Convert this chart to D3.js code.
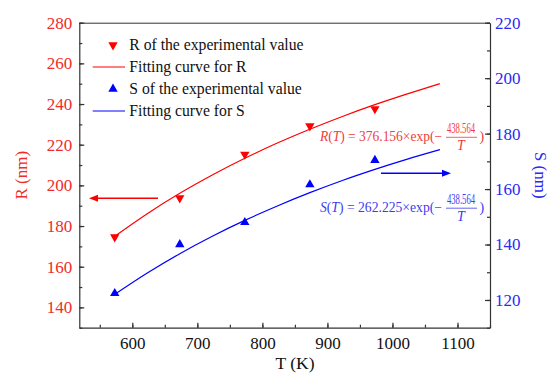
<!DOCTYPE html>
<html>
<head>
<meta charset="utf-8">
<script src="https://d3js.org/d3.v7.min.js"></script>
</head>
<body style="margin:0; background:#fff">
<div id="chart"></div>
<script>
// experimental points
var temps = [573, 673, 773, 873, 973];
var rExp = [174.6, 193.8, 215.2, 229.2, 237.6];
var sExp = [122.4, 140.0, 148.0, 161.6, 170.4];

// fitted curves
var fitTemps = [573, 623, 673, 723, 773, 823, 873, 923, 973, 1023, 1073];
var rFit = [175.0, 186.1, 196.1, 205.1, 213.3, 220.8, 227.6, 233.9, 239.7, 245.0, 250.0];
var sFit = [122.0, 129.7, 136.7, 143.0, 148.7, 153.9, 158.7, 163.1, 167.1, 170.8, 174.2];

var xTicks = [600, 700, 800, 900, 1000, 1100];
var rTicks = [140, 160, 180, 200, 220, 240, 260, 280];
var sTicks = [120, 140, 160, 180, 200, 220];

var legendLabels = ["R of the experimental value", "Fitting curve for R",
                    "S of the experimental value", "Fitting curve for S"];

var W = 553, H = 377;
var margin = {top: 22.7, right: 63, bottom: 49.3, left: 79.3};
var width = W - margin.left - margin.right,
    height = H - margin.top - margin.bottom;

var red = "#ff0000", blue = "#0000ff";
var redText = "#f22a2a", blueText = "#2a2af2";
var serif = "Liberation Serif";

var svg = d3.select("#chart").append("svg")
    .attr("width", W).attr("height", H);

var g = svg.append("g")
    .attr("transform", "translate(" + margin.left + "," + margin.top + ")");

var x = d3.scaleLinear().domain([518.5, 1150]).range([0, width]);
var yR = d3.scaleLinear().domain([130, 280]).range([height, 0]);
var yS = d3.scaleLinear().domain([110, 220]).range([height, 0]);

////////// axes //////////
function minor(scale, step) {
  return d3.range(Math.ceil(scale.domain()[0] / step) * step, scale.domain()[1] + 0.01, step);
}

var axisColor = "#333";
var fmt = d3.format("d");

g.append("g").attr("transform", "translate(0," + height + ")")
  .call(d3.axisBottom(x).tickValues(minor(x, 50)).tickSize(-3).tickFormat(""))
  .call(function(a) { a.select(".domain").remove(); });
var xa = g.append("g").attr("transform", "translate(0," + height + ")")
  .call(d3.axisBottom(x).tickValues(xTicks).tickSize(-5).tickPadding(9).tickSizeOuter(0).tickFormat(fmt));
xa.selectAll("text").attr("fill", "#111").style("font-size", "17px");

g.append("g")
  .call(d3.axisLeft(yR).tickValues(minor(yR, 10)).tickSize(-3).tickFormat(""))
  .call(function(a) { a.select(".domain").remove(); });
var ra = g.append("g")
  .call(d3.axisLeft(yR).tickValues(rTicks).tickSize(-5).tickPadding(7).tickSizeOuter(0).tickFormat(fmt));
ra.selectAll("text").attr("fill", redText).style("font-size", "17px");

g.append("g").attr("transform", "translate(" + width + ",0)")
  .call(d3.axisRight(yS).tickValues(minor(yS, 10)).tickSize(-3).tickFormat(""))
  .call(function(a) { a.select(".domain").remove(); });
var sa = g.append("g").attr("transform", "translate(" + width + ",0)")
  .call(d3.axisRight(yS).tickValues(sTicks).tickSize(-5).tickPadding(5).tickSizeOuter(0).tickFormat(fmt));
sa.selectAll("text").attr("fill", blueText).style("font-size", "17px");

g.append("line").attr("x1", 0).attr("x2", width).attr("y1", 0.5).attr("y2", 0.5)
  .attr("stroke", axisColor);

g.selectAll(".domain, .tick line").attr("stroke", axisColor).attr("stroke-width", 1.2);

// axis titles
svg.append("text").attr("x", 295).attr("y", 369).attr("text-anchor", "middle")
  .style("font-size", "17.5px").attr("fill", "#111").text("T (K)");
svg.append("text").attr("transform", "translate(27," + (margin.top + height / 2) + ") rotate(-90)")
  .attr("text-anchor", "middle").style("font-size", "17px").attr("fill", redText).text("R (nm)");
svg.append("text").attr("transform", "translate(535," + (margin.top + height / 2) + ") rotate(90)")
  .attr("text-anchor", "middle").style("font-size", "17px").attr("fill", blueText).text("S (nm)");

////////// curves and points //////////
var lineR = d3.line().x(function(d, i) { return x(fitTemps[i]); })
  .y(function(d) { return yR(d); }).curve(d3.curveMonotoneX);
var lineS = d3.line().x(function(d, i) { return x(fitTemps[i]); })
  .y(function(d) { return yS(d); }).curve(d3.curveMonotoneX);

g.append("path").datum(rFit).attr("d", lineR)
  .attr("fill", "none").attr("stroke", red).attr("stroke-width", 1.2);
g.append("path").datum(sFit).attr("d", lineS)
  .attr("fill", "none").attr("stroke", blue).attr("stroke-width", 1.2);

var tri = d3.symbol().type(d3.symbolTriangle).size(38);

g.selectAll(".rpt").data(rExp).enter().append("path")
  .attr("class", "rpt").attr("d", tri).attr("fill", red)
  .attr("transform", function(d, i) {
    return "translate(" + x(temps[i]) + "," + yR(d) + ") rotate(180)";
  });
g.selectAll(".spt").data(sExp).enter().append("path")
  .attr("class", "spt").attr("d", tri).attr("fill", blue)
  .attr("transform", function(d, i) {
    return "translate(" + x(temps[i]) + "," + yS(d) + ")";
  });

////////// legend //////////
var leg = svg.append("g");
legendLabels.forEach(function(t, i) {
  var cy = 45 + i * 22;
  var col = i < 2 ? red : blue;
  if (i % 2 === 0) {
    leg.append("path").attr("d", tri).attr("fill", col)
      .attr("transform", "translate(113," + cy + ")" + (i === 0 ? " rotate(180)" : ""));
  } else {
    leg.append("line").attr("x1", 92.7).attr("x2", 125).attr("y1", cy).attr("y2", cy)
      .attr("stroke", col).attr("stroke-width", 1.2);
  }
  leg.append("text").attr("x", 129.3).attr("y", cy + 4.8)
    .style("font-size", "15.7px").attr("fill", "#111").text(t);
});

////////// arrows //////////
function arrow(x1, x2, y, col) {
  var dir = x2 > x1 ? 1 : -1;
  svg.append("line").attr("x1", x1).attr("x2", x2 - dir * 7).attr("y1", y).attr("y2", y)
    .attr("stroke", col).attr("stroke-width", 1.6);
  svg.append("path")
    .attr("d", "M" + x2 + "," + y + "L" + (x2 - dir * 9) + "," + (y - 3.5) +
               "L" + (x2 - dir * 9) + "," + (y + 3.5) + "Z")
    .attr("fill", col);
}
arrow(158, 89, 198.3, red);
arrow(381, 451, 173.3, blue);

////////// equations //////////
function equation(name, coef, base, col) {
  var e = svg.append("g").attr("fill", col);
  var t = e.append("text").attr("x", 320).attr("y", base).style("font-size", "14px")
    .attr("textLength", 122).attr("lengthAdjust", "spacingAndGlyphs");
  t.append("tspan").style("font-style", "italic").text(name);
  t.append("tspan").text("(");
  t.append("tspan").style("font-style", "italic").text("T");
  t.append("tspan").text(") = " + coef + "\u00d7exp(\u2212");
  // narrow numerator, squeezed like the original
  e.append("text").attr("transform", "translate(461," + (base - 7.5) + ") scale(0.62,1)")
    .attr("text-anchor", "middle").style("font-size", "14px").text("438.564");
  e.append("line").attr("x1", 446).attr("x2", 477).attr("y1", base - 3.3).attr("y2", base - 3.3)
    .attr("stroke", col).attr("stroke-width", 0.8);
  e.append("text").attr("x", 461).attr("y", base + 9.5).attr("text-anchor", "middle")
    .style("font-size", "14px").style("font-style", "italic").text("T");
  e.append("text").attr("x", 479.5).attr("y", base).style("font-size", "14px").text(")");
}
equation("R", "376.156", 140.6, "#f03c3c");
equation("S", "262.225", 211.5, "#3c3cf0");

// every text in Times-like serif
svg.selectAll("g").attr("font-family", null);
svg.selectAll("text").attr("font-family", serif).style("font-family", serif);
</script>
</body>
</html>
